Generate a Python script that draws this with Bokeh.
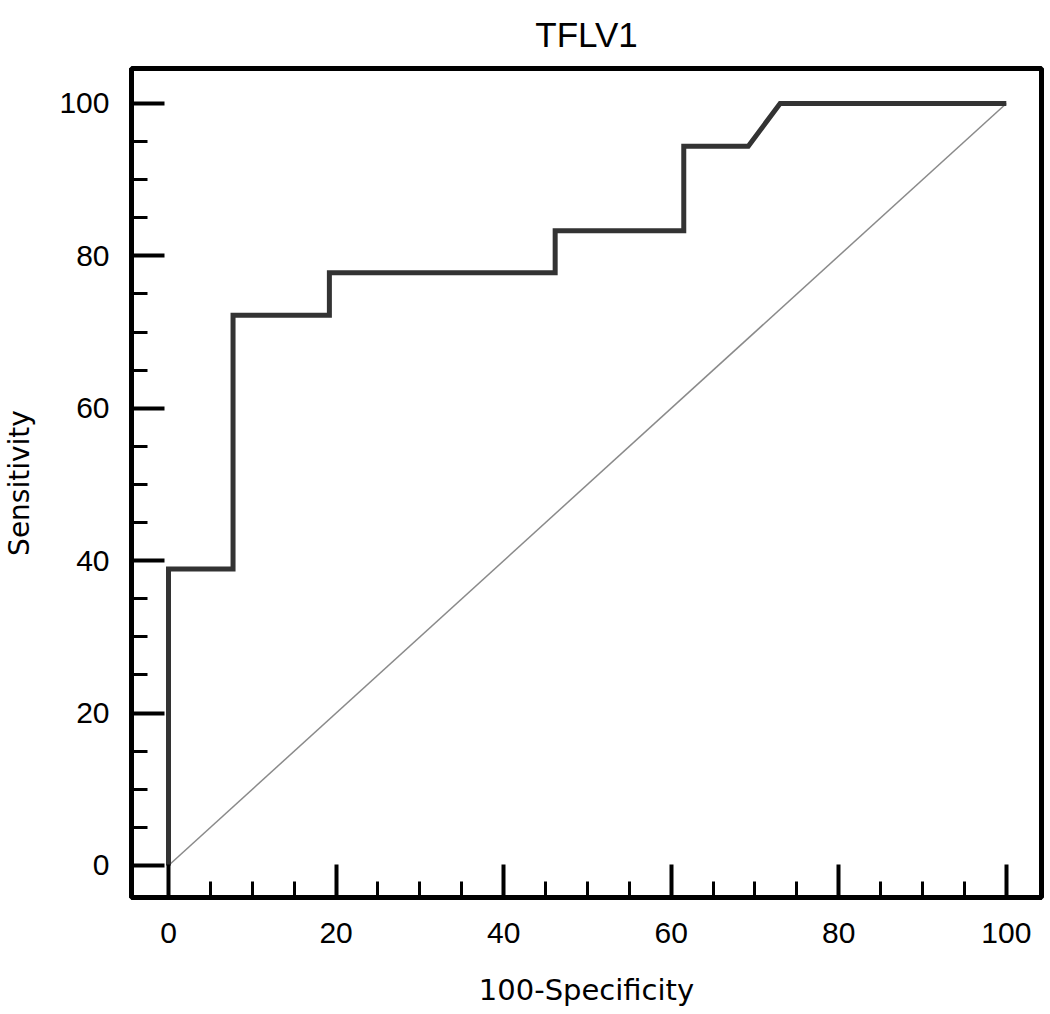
from bokeh.plotting import figure
from bokeh.models import Range1d, FixedTicker
from bokeh.embed import file_html
from bokeh.resources import INLINE

# ROC curve data (100-Specificity, Sensitivity)
roc_x = [0, 0, 7.7, 7.7, 19.2, 19.2, 46.15, 46.15, 61.5, 61.5, 69.2, 73.0, 100]
roc_y = [0, 38.9, 38.9, 72.2, 72.2, 77.8, 77.8, 83.3, 83.3, 94.4, 94.4, 100, 100]
diag_x = [0, 100]
diag_y = [0, 100]

major_ticks = [0, 20, 40, 60, 80, 100]
minor_ticks = [v for v in range(0, 101, 5) if v % 20 != 0]

TITLE = "TFLV1"
FONT = "Liberation Sans"
LABEL_FONT = "DejaVu Sans"

p = figure(width=1050, height=1014, output_backend="svg", toolbar_location=None,
           x_range=Range1d(-4.42, 104.2), y_range=Range1d(-4.2, 104.59),
           min_border_left=131, min_border_top=68, min_border_right=9, min_border_bottom=117,
           title=TITLE)

p.title.text_font = FONT
p.title.text_font_size = "35px"
p.title.text_font_style = "normal"
p.title.align = "center"
p.title.vertical_align = "top"
p.title.text_color = "black"
p.title.standoff = 26

p.xgrid.visible = False
p.ygrid.visible = False
p.outline_line_color = "black"
p.outline_line_width = 5
p.background_fill_color = "white"
p.border_fill_color = "white"

for ax, lbl in ((p.xaxis[0], "100-Specificity"), (p.yaxis[0], "Sensitivity")):
    ax.ticker = FixedTicker(ticks=major_ticks, minor_ticks=minor_ticks)
    ax.axis_label = lbl
    ax.axis_label_text_font = LABEL_FONT
    ax.axis_label_text_font_size = "28px"
    ax.axis_label_text_font_style = "normal"
    ax.axis_label_text_color = "black"
    ax.major_label_text_font = FONT
    ax.major_label_text_font_size = "30px"
    ax.major_label_text_color = "black"
    ax.axis_line_color = "black"
    ax.axis_line_width = 5
    ax.major_tick_in = 33
    ax.major_tick_out = 0
    ax.minor_tick_in = 16
    ax.minor_tick_out = 0
    ax.major_tick_line_width = 4
    ax.minor_tick_line_width = 3
    ax.major_tick_line_color = "black"
    ax.minor_tick_line_color = "black"

p.xaxis.axis_label_text_font_size = "29px"
p.xaxis.major_label_standoff = 25
p.xaxis.axis_label_standoff = 27
p.yaxis.major_label_standoff = 22
p.yaxis.axis_label_standoff = 20

p.line(diag_x, diag_y, line_color="#8a8a8a", line_width=1.5)
p.line(roc_x, roc_y, line_color="#333333", line_width=5, line_join="miter")

open("out.html", "w").write(file_html(p, INLINE))
